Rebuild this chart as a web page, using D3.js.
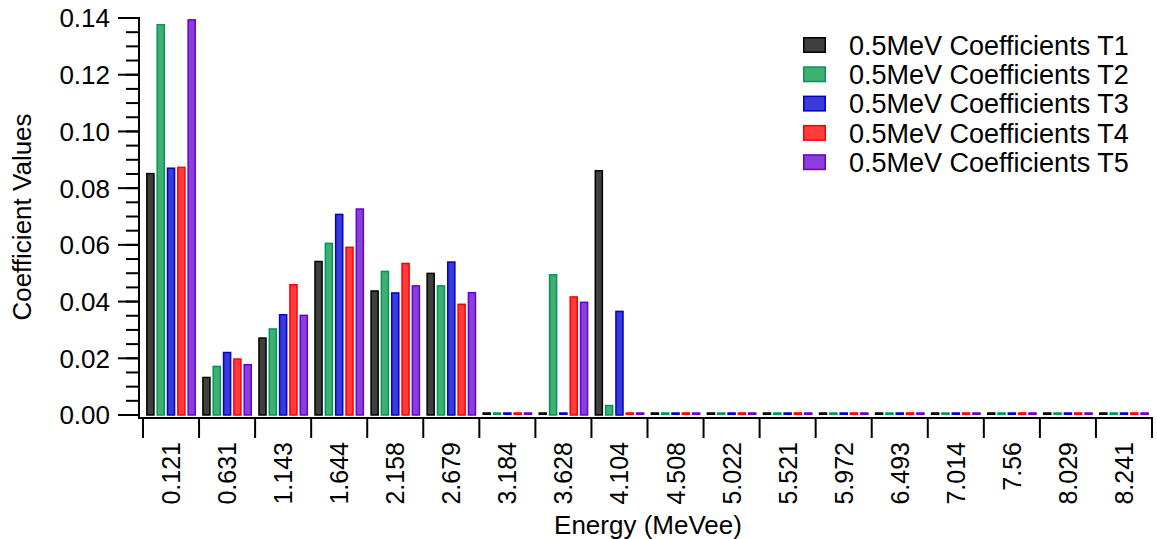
<!DOCTYPE html>
<html>
<head>
<meta charset="utf-8">
<script src="https://cdn.jsdelivr.net/npm/d3@7"></script>
<style>
  body { margin: 0; background: #fff; }
  svg { display: block; font-family: "Liberation Sans", Arial, sans-serif; }
  .axis-line { stroke: #000; stroke-width: 2; fill: none; }
</style>
</head>
<body>
<svg id="chart" width="1157" height="539"></svg>
<script>
// energy bins (x categories)
var energies = ["0.121", "0.631", "1.143", "1.644", "2.158", "2.679", "3.184", "3.628", "4.104",
                "4.508", "5.022", "5.521", "5.972", "6.493", "7.014", "7.56", "8.029", "8.241"];

var seriesNames = ["0.5MeV Coefficients T1", "0.5MeV Coefficients T2", "0.5MeV Coefficients T3",
                   "0.5MeV Coefficients T4", "0.5MeV Coefficients T5"];

var t1 = [0.0854, 0.0135, 0.0274, 0.0544, 0.0440, 0.0502, 0, 0,      0.0864, 0, 0, 0, 0, 0, 0, 0, 0, 0];
var t2 = [0.1379, 0.0174, 0.0306, 0.0608, 0.0509, 0.0458, 0, 0.0497, 0.0036, 0, 0, 0, 0, 0, 0, 0, 0, 0];
var t3 = [0.0873, 0.0223, 0.0356, 0.0710, 0.0433, 0.0542, 0, 0,      0.0368, 0, 0, 0, 0, 0, 0, 0, 0, 0];
var t4 = [0.0876, 0.0200, 0.0462, 0.0594, 0.0537, 0.0393, 0, 0.0419, 0,      0, 0, 0, 0, 0, 0, 0, 0, 0];
var t5 = [0.1396, 0.0180, 0.0354, 0.0729, 0.0458, 0.0434, 0, 0.0400, 0,      0, 0, 0, 0, 0, 0, 0, 0, 0];

var yTicks = [0, 0.02, 0.04, 0.06, 0.08, 0.10, 0.12, 0.14];

var fills   = ["#3f3f3f", "#3fb070", "#3a3ad8", "#ff3c3c", "#8a3fdc"];
var strokes = ["#000000", "#00965a", "#0000c8", "#ff0000", "#6600cc"];

var allSeries = [t1, t2, t3, t4, t5];

var svg = d3.select("#chart");

var x0 = d3.scaleBand().domain(energies).range([143, 1152]);
var x1 = d3.scaleBand().domain(d3.range(5)).range([0, x0.bandwidth()])
    .paddingInner(0.17).paddingOuter(0.3);
var y = d3.scaleLinear().domain([0, 0.14]).range([415, 18]);

// bars (zero values still show as a flat coloured outline)
var groups = svg.append("g").selectAll("g")
    .data(energies)
    .join("g")
    .attr("transform", function (d) { return "translate(" + x0(d) + ",0)"; });

groups.selectAll("rect")
    .data(function (d, i) { return allSeries.map(function (s, k) { return { k: k, v: s[i] }; }); })
    .join("rect")
    .attr("x", function (d) { return x1(d.k) + 0.75; })
    .attr("width", x1.bandwidth() - 1.5)
    .attr("y", function (d) { return Math.min(y(d.v) + 0.75, y(0) - 2); })
    .attr("height", function (d) { return Math.max(1.3, y(0) - y(d.v) - 0.75); })
    .attr("fill", function (d) { return fills[d.k]; })
    .attr("stroke", function (d) { return strokes[d.k]; })
    .attr("stroke-width", 1.5);

// y axis
var yMinor = d3.range(0, 0.1401, 0.005);
svg.append("g").selectAll("line.minor")
    .data(yMinor)
    .join("line")
    .attr("x1", 126).attr("x2", 139)
    .attr("y1", function (d) { return y(d); })
    .attr("y2", function (d) { return y(d); })
    .attr("stroke", "#000").attr("stroke-width", 2);

svg.append("g").selectAll("line.major")
    .data(yTicks)
    .join("line")
    .attr("x1", 118).attr("x2", 139)
    .attr("y1", function (d) { return y(d); })
    .attr("y2", function (d) { return y(d); })
    .attr("stroke", "#000").attr("stroke-width", 2);

svg.append("g").selectAll("text")
    .data(yTicks)
    .join("text")
    .attr("x", 110)
    .attr("y", function (d) { return y(d); })
    .attr("dy", "0.36em")
    .attr("text-anchor", "end")
    .attr("font-size", 26)
    .text(function (d) { return d3.format(".2f")(d); });

svg.append("line").attr("class", "axis-line")
    .attr("x1", 139).attr("x2", 139).attr("y1", 17).attr("y2", 419);

// x axis
svg.append("line").attr("class", "axis-line")
    .attr("x1", 138).attr("x2", 1153).attr("y1", 418).attr("y2", 418);

var bounds = energies.map(function (d) { return x0(d); }).concat([x0.range()[1]]);
svg.append("g").selectAll("line")
    .data(bounds)
    .join("line")
    .attr("x1", function (d) { return d; })
    .attr("x2", function (d) { return d; })
    .attr("y1", 418).attr("y2", 438)
    .attr("stroke", "#000").attr("stroke-width", 2);

svg.append("g").selectAll("text")
    .data(energies)
    .join("text")
    .attr("transform", function (d) {
        return "translate(" + (x0(d) + x0.bandwidth() / 2) + ",442) rotate(-90)";
    })
    .attr("dy", "0.36em")
    .attr("text-anchor", "end")
    .attr("font-size", 25)
    .text(function (d) { return d; });

// axis titles
svg.append("text")
    .attr("transform", "translate(31,217) rotate(-90)")
    .attr("text-anchor", "middle")
    .attr("font-size", 26)
    .text("Coefficient Values");

svg.append("text")
    .attr("x", 648).attr("y", 534)
    .attr("text-anchor", "middle")
    .attr("font-size", 26)
    .text("Energy (MeVee)");

// legend
var legend = svg.append("g").selectAll("g")
    .data(seriesNames)
    .join("g")
    .attr("transform", function (d, i) { return "translate(803," + (45 + i * 29.3) + ")"; });

legend.append("rect")
    .attr("x", 0.75).attr("y", -7.25)
    .attr("width", 21.5).attr("height", 14.5)
    .attr("fill", function (d, i) { return fills[i]; })
    .attr("stroke", function (d, i) { return strokes[i]; })
    .attr("stroke-width", 1.5);

legend.append("text")
    .attr("x", 46).attr("dy", "0.36em")
    .attr("font-size", 27)
    .text(function (d) { return d; });
</script>
</body>
</html>
